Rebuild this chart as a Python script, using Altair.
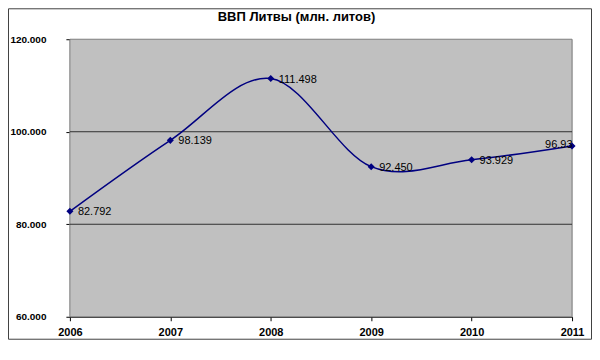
import altair as alt
import pandas as pd

years = [2006, 2007, 2008, 2009, 2010, 2011]
gdp = [82792, 98139, 111498, 92450, 93929, 96935]
y_ticks = [60000, 80000, 100000, 120000]
grid_values = [80000, 100000]
title = "ВВП Литвы (млн. литов)"

df = pd.DataFrame({"year": years, "gdp": gdp})
df["label"] = [f"{v:,}".replace(",", ".") for v in gdp]
grid_df = pd.DataFrame({"gdp": grid_values})

FONT = "Liberation Sans"
NAVY = "#000080"

xscale = alt.Scale(domain=[2006, 2011], nice=False, zero=False)
yscale = alt.Scale(domain=[60000, 120000], nice=False, zero=False)

x = alt.X("year:Q", scale=xscale,
          axis=alt.Axis(values=years, format="d", title=None, grid=False,
                        labelFont=FONT, labelFontSize=11, labelFontWeight="bold",
                        labelColor="black", labelPadding=6, tickSize=4,
                        tickColor="black", domainColor="black", labelFlush=False))
y = alt.Y("gdp:Q", scale=yscale,
          axis=alt.Axis(values=y_ticks, title=None,
                        labelExpr="replace(format(datum.value, ','), ',', '.')",
                        grid=False,
                        labelFont=FONT, labelFontSize=10, labelFontWeight="bold",
                        labelColor="black", labelPadding=20, tickSize=4,
                        tickColor="black", domainColor="black"))

base = alt.Chart(df)
one = base.transform_filter("datum.year == 2006")

bg = one.mark_rect(fill="#C0C0C0", stroke="#808080", strokeWidth=1).encode(
    x=alt.value(0), x2=alt.value(503), y=alt.value(0), y2=alt.value(278))

border = one.mark_rect(fill="transparent", fillOpacity=0, stroke="#404040", strokeWidth=1).encode(
    x=alt.value(-61.5), x2=alt.value(522.5), y=alt.value(-30.5), y2=alt.value(300.5))

title_mark = one.mark_text(font=FONT, fontSize=13, fontWeight="bold", color="black",
                           align="center", baseline="middle").encode(
    x=alt.value(227), y=alt.value(-22), text=alt.value(title))

grid = alt.Chart(grid_df).mark_rule(color="#303030", strokeWidth=1).encode(
    y=alt.Y("gdp:Q", scale=yscale), x=alt.value(0), x2=alt.value(503))

line = base.mark_line(color=NAVY, strokeWidth=1.5, interpolate="cardinal").encode(x=x, y=y)
pts = base.mark_point(shape="diamond", filled=True, color=NAVY, size=50, opacity=1).encode(x=x, y=y)
labels = base.mark_text(align="left", baseline="middle", dx=8, dy=1, font=FONT,
                        fontSize=11, color="black", clip=True).encode(
    x=x, y=y, text="label:N").transform_filter("datum.year < 2011")
last_label = base.mark_text(align="left", baseline="middle", dx=-27, dy=-1, font=FONT,
                            fontSize=11, color="black", clip=True).encode(
    x=x, y=y, text="label:N").transform_filter("datum.year == 2011")

chart = alt.layer(bg, border, title_mark, grid, line, pts, labels, last_label).properties(
    width=503, height=278,
    autosize=alt.AutoSizeParams(type="none"),
    padding={"left": 62, "top": 31, "right": 20, "bottom": 35},
).configure_view(stroke=None).configure(background="white")

chart.save("out.html", embed_options={"renderer": "svg", "actions": False})
